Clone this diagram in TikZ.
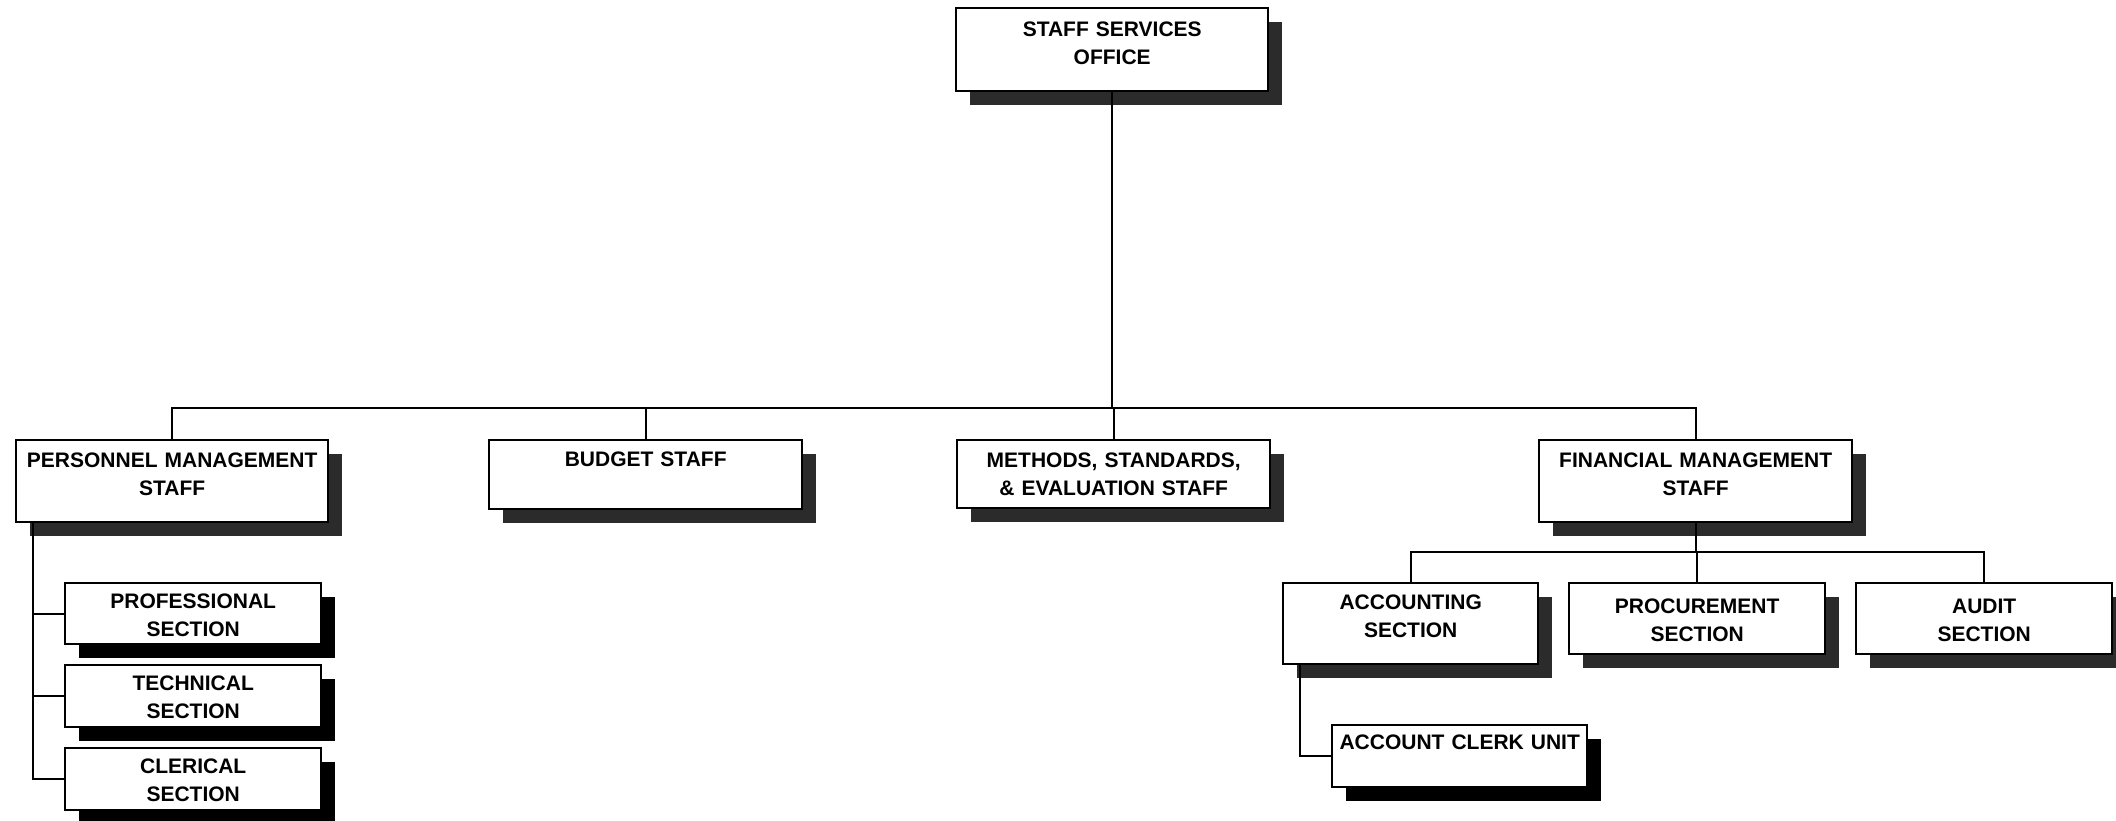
\documentclass[tikz,border=0pt]{standalone}
\usepackage{fontspec}
\setmainfont{Liberation Sans}
\usetikzlibrary{shadows}
\definecolor{shgrey}{RGB}{43,43,43}
\tikzset{
  orgbox/.style={draw=black, line width=2.4pt, fill=white, inner sep=0pt,
    align=center, anchor=north west, text height=27pt,
    font=\bfseries\fontsize{21}{28.5}\selectfont},
  greyshadow/.style={drop shadow={shadow xshift=14pt, shadow yshift=-14pt, fill=shgrey, opacity=1}},
  blackshadow/.style={drop shadow={shadow xshift=14pt, shadow yshift=-14pt, fill=black, opacity=1}},
  conn/.style={line width=2.2pt, draw=black},
}
\begin{document}
\begin{tikzpicture}[x=1pt,y=-1pt]
\useasboundingbox (0,0) rectangle (2116,820);
% top
\node[orgbox, greyshadow, text width=312pt, text height=28pt, text depth=55pt] (sso) at (955,7) {STAFF SERVICES\\OFFICE};
% second level
\node[orgbox, greyshadow, text width=312pt, text height=27pt, text depth=55pt] (pers) at (15,439) {PERSONNEL MANAGEMENT\\STAFF};
\node[orgbox, greyshadow, text width=313pt, text height=26pt, text depth=43pt] (bud) at (488,439) {BUDGET STAFF};
\node[orgbox, greyshadow, text width=313pt, text height=27pt, text depth=41pt] (msd) at (956,439) {METHODS, STANDARDS,\\\& EVALUATION STAFF};
\node[orgbox, greyshadow, text width=313pt, text height=27pt, text depth=55pt] (fin) at (1538,439) {FINANCIAL MANAGEMENT\\STAFF};
% personnel sections
\node[orgbox, blackshadow, text width=256pt, text height=25pt, text depth=36pt] (prof) at (64,582) {PROFESSIONAL\\SECTION};
\node[orgbox, blackshadow, text width=256pt, text height=25pt, text depth=37pt] (tech) at (64,664) {TECHNICAL\\SECTION};
\node[orgbox, blackshadow, text width=256pt, text height=25pt, text depth=37pt] (cler) at (64,747) {CLERICAL\\SECTION};
% financial sections
\node[orgbox, greyshadow, text width=255pt, text height=26pt, text depth=55pt] (acc) at (1282,582) {ACCOUNTING\\SECTION};
\node[orgbox, greyshadow, text width=256pt, text height=30pt, text depth=41pt] (proc) at (1568,582) {PROCUREMENT\\SECTION};
\node[orgbox, greyshadow, text width=256pt, text height=30pt, text depth=41pt] (aud) at (1855,582) {AUDIT\\SECTION};
\node[orgbox, blackshadow, text width=255pt, text height=24pt, text depth=38pt] (acu) at (1331,724) {ACCOUNT CLERK UNIT};
% connectors
\coordinate (busy) at (0,408);
\coordinate (fbus) at (0,552);
\draw[conn] (sso.south) -- (sso.south |- busy);
\draw[conn] (pers.north) |- (fin.north |- busy) -- (fin.north);
\draw[conn] (bud.north) -- (bud.north |- busy);
\draw[conn] (msd.north) -- (msd.north |- busy);
\draw[conn] (fin.south) -- (fin.south |- fbus);
\draw[conn] (acc.north) |- (aud.north |- fbus) -- (aud.north);
\draw[conn] (proc.north) -- (proc.north |- fbus);
\coordinate (pl) at ([xshift=18pt]pers.south west);
\draw[conn] (pl) |- (cler.west);
\draw[conn] (prof.west -| pl) -- (prof.west);
\draw[conn] (tech.west -| pl) -- (tech.west);
\coordinate (al) at ([xshift=18pt]acc.south west);
\draw[conn] (al) |- (acu.west);
\end{tikzpicture}
\end{document}
